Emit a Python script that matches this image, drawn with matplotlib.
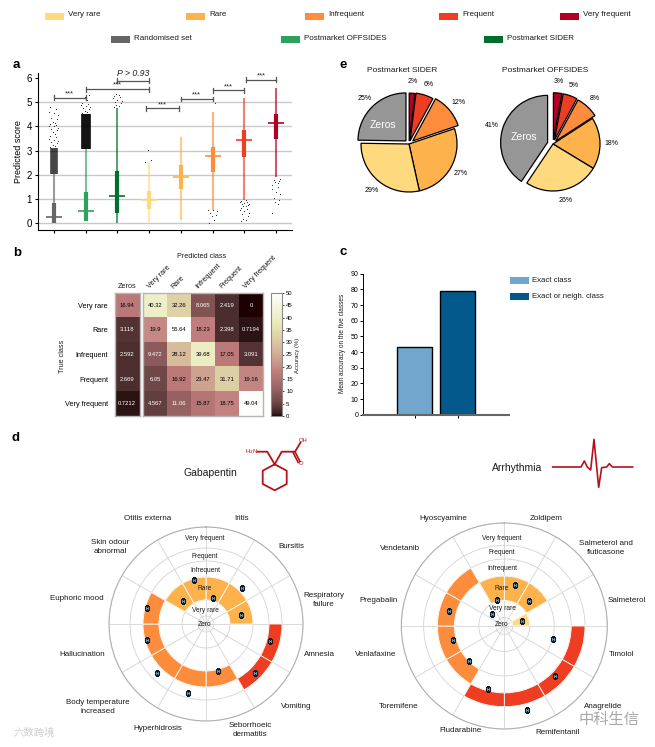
# Drug side-effect frequency figure: panels a-e recreated in one file

import numpy as np
import matplotlib
matplotlib.use("Agg")
import matplotlib.pyplot as plt
from matplotlib.patches import Rectangle

plt.rcParams['font.family'] = ['Liberation Sans', 'DejaVu Sans']

W, H = 655, 747

# legend
legend_top = ["Very rare", "Rare", "Infrequent", "Frequent", "Very frequent"]
legend_bottom = ["Randomised set", "Postmarket OFFSIDES", "Postmarket SIDER"]
class_colors = ['#ffd97d', '#feb24c', '#fd8d3c', '#ee3d20', '#b10026']
set_colors = ['#666666', '#2ca25f', '#006d2c']

# panel a: one box per group
box_colors = set_colors + class_colors
whisker_low = [0.0, 0.1, 0.0, 0.05, 0.15, 0.55, 0.97, 1.93]
whisker_high = [2.05, 3.05, 4.75, 2.5, 3.55, 4.58, 5.15, 5.58]
box_low = [0.03, 0.1, 0.43, 0.58, 1.4, 2.12, 2.72, 3.48]
box_high = [0.83, 1.3, 2.15, 1.33, 2.42, 3.15, 3.85, 4.53]
medians = [0.27, 0.5, 1.15, 0.97, 1.93, 2.77, 3.42, 4.15]
fliers = [
    [3.15, 3.2, 3.25, 3.3, 3.35, 3.4, 3.45, 3.5, 3.55, 3.6, 3.7, 3.75, 3.85, 3.9,
     3.95, 4.0, 4.02, 4.05, 4.1, 4.12, 4.2, 4.3, 4.35, 4.45, 4.55, 4.6, 4.7, 4.78],
    [4.55, 4.6, 4.65, 4.7, 4.75, 4.8, 4.85, 4.9, 4.92, 4.95, 5.1, 5.2, 5.3],
    [4.8, 4.85, 4.9, 4.95, 5.0, 5.05, 5.1, 5.15, 5.2, 5.25, 5.3, 5.35],
    [2.55, 2.6, 3.02],
    [],
    [0.02, 0.15, 0.3, 0.35, 0.42, 0.5, 0.55, 0.57, 4.95],
    [0.1, 0.15, 0.2, 0.3, 0.4, 0.45, 0.5, 0.55, 0.6, 0.65, 0.7, 0.72, 0.75, 0.8,
     0.82, 0.85, 0.88, 0.9, 0.92, 0.95],
    [0.45, 0.8, 0.9, 0.95, 1.05, 1.2, 1.3, 1.4, 1.5, 1.6, 1.65, 1.7, 1.75, 1.8, 1.85],
]
# where the outliers are too many to tell apart
dense_group = [0, 1]
dense_low = [2.05, 3.05]
dense_high = [3.1, 4.5]
flier_offsets = [-0.12, 0.05, -0.03, 0.1, -0.08, 0.13, 0.0, -0.14, 0.07]

bracket_from = [0, 1, 2, 2.9, 4, 5, 6.05]
bracket_to = [1, 3, 3, 3.95, 5, 6, 7]
bracket_y = [5.18, 5.53, 5.88, 4.74, 5.13, 5.48, 5.92]
bracket_text = ["***", "***", "P > 0.93", "***", "***", "***", "***"]

# panel b
pred_classes = ["Very rare", "Rare", "Infrequent", "Frequent", "Very frequent"]
zeros_col = [16.94, 3.118, 2.592, 2.669, 0.7212]
conf = [
    [40.32, 32.26, 8.065, 2.419, 0],
    [19.9, 55.64, 18.23, 2.398, 0.7194],
    [9.472, 28.12, 39.68, 17.05, 3.091],
    [6.05, 16.92, 23.47, 31.71, 19.16],
    [4.567, 11.06, 15.87, 18.75, 49.04],
]

# panel c
bar_names = ["Exact class", "Exact or neigh. class"]
bar_values = [43.3, 78.7]
bar_colors = ['#72a6cd', '#03598c']

# panel e, clockwise from the top
pie_colors = ['#b10026', '#ee3d20', '#fd8d3c', '#feb24c', '#ffd97d', '#969696']
sider_pct = [2, 6, 12, 27, 29, 25]
offsides_pct = [3, 5, 8, 18, 26, 41]

# panel d: sector class (0 zero ... 5 very frequent) and predicted radius
ring_edges = [0, 8, 24, 47, 63, 76, 97]
ring_labels = ["Zero", "Very rare", "Rare", "Infrequent", "Frequent", "Very frequent"]
gaba_class = [2, 2, 2, 4, 4, 3, 3, 3, 3, 3, 2, 2]
gaba_pred = [26.8, 51.4, 36, 66.4, 70, 48.2, 71, 68.6, 61, 60.6, 33, 45.6]
arr_class = [2, 2, 1, 4, 4, 4, 4, 3, 3, 3, 3, 2]
arr_pred = [40, 33, 17.6, 47, 67, 81.6, 61, 47, 50, 54, 16.2, 25.4]

gaba_effects = ["Iritis", "Bursitis", "Respiratory\nfailure", "Amnesia", "Vomiting",
                "Seborrhoeic\ndermatitis", "Hyperhidrosis", "Body temperature\nincreased",
                "Hallucination", "Euphoric mood", "Skin odour\nabnormal", "Otitis externa"]
gaba_xy = [(242, 519), (291, 547), (324, 600), (319, 654), (296, 706), (250, 730),
           (158, 729), (98, 707), (82, 654), (77, 599), (110, 547), (148, 519)]
arr_drugs = ["Zoldipem", "Salmeterol and\nfluticasone", "Salmeterol", "Timolol", "Anagrelide",
             "Remifentanil", "Fludarabine", "Toremifene", "Venlafaxine", "Pregabalin",
             "Vendetanib", "Hyoscyamine"]
arr_xy = [(546, 519), (606, 548), (627, 600), (622, 655), (603, 706), (557, 732),
          (461, 731), (399, 707), (376, 655), (379, 600), (400, 548), (443, 519)]


def px_axes(x0, y0, x1, y1, **kw):
    return fig.add_axes([x0 / W, 1 - y1 / H, (x1 - x0) / W, (y1 - y0) / H], **kw)


fig = plt.figure(figsize=(W / 100, H / 100), dpi=100)

# overlay in pixel coordinates for loose text and drawings
over = px_axes(0, 0, W, H)
over.set_xlim(0, W)
over.set_ylim(H, 0)
over.axis('off')
over.set_zorder(10)


def txt(x, y, s, size=5.8, **kw):
    kw.setdefault('ha', 'center')
    kw.setdefault('va', 'center')
    kw.setdefault('color', '#1a1a1a')
    over.text(x, y, s, fontsize=size, **kw)


# legend
for name, color, px, tx in zip(legend_top, class_colors, [45, 186, 305, 439, 560], [68, 209, 328, 462, 583]):
    over.add_patch(Rectangle((px, 12.7), 19, 7.3, color=color, lw=0))
    txt(tx, 15, name, ha='left')
for name, color, px, tx in zip(legend_bottom, set_colors, [111, 281, 484], [134, 304, 507]):
    over.add_patch(Rectangle((px, 36), 19, 7, color=color, lw=0))
    txt(tx, 39, name, ha='left')

# panel letters
for letter, x, y in zip("aebcd", [16, 343, 17, 343, 16], [65, 65, 253, 252, 438]):
    txt(x, y, letter, size=9.5, fontweight='bold', color='black')

# ---- panel a
ax = px_axes(38, 73, 292, 230)
ax.set_xlim(-0.5, 7.5)
ax.set_ylim(-0.27, 6.2)
ax.hlines(range(6), -0.5, 7.5, color='#c9c9c9', lw=1, zorder=0)
for i in range(8):
    c = box_colors[i]
    ax.vlines(i, whisker_low[i], whisker_high[i], color=c, lw=1.5, alpha=0.65, zorder=2)
    ax.vlines(i, box_low[i], box_high[i], color=c, lw=3, zorder=3)
    ax.hlines(medians[i], i - 0.25, i + 0.25, color=c, lw=1.2, zorder=4)
    ys = fliers[i]
    xs = i + np.resize(flier_offsets, len(ys))
    ax.scatter(xs, ys, s=0.5, color='#222222', lw=0, zorder=3)
for i, lo, hi, w in zip(dense_group, dense_low, dense_high, [5.5, 7]):
    ax.vlines(i, lo, hi, color='black', lw=w, alpha=0.72 + 0.2 * i, zorder=3)
for a, b, y, s in zip(bracket_from, bracket_to, bracket_y, bracket_text):
    ax.plot([a, a, np.nan, a, b, np.nan, b, b], [y - 0.1, y + 0.1, np.nan, y, y, np.nan, y - 0.1, y + 0.1],
            color='#555555', lw=0.9, clip_on=False)
    if s == "***":
        ax.text((a + b) / 2, y + 0.02, s, ha='center', va='bottom', fontsize=5.5, color='#222222')
    else:
        ax.text((a + b) / 2, y + 0.13, s, ha='center', va='bottom', fontsize=6.3, style='italic', color='#222222')
for side in ['top', 'right']:
    ax.spines[side].set_visible(False)
ax.set_xticks(range(8))
ax.set_xticklabels([])
ax.set_yticks(range(7))
ax.tick_params(labelsize=7, length=2.5, width=0.8, pad=2)
ax.set_ylabel("Predicted score", fontsize=6.5, labelpad=2)

# ---- panel b
im_args = dict(cmap='pink', vmin=0, vmax=50, aspect='auto')
ax_z = px_axes(115, 293, 139.5, 416)
ax_z.imshow(np.array(zeros_col).reshape(-1, 1), **im_args)
ax_m = px_axes(143, 293, 263, 416)
im = ax_m.imshow(np.array(conf), **im_args)


def cell_label(ax, col, row, v):
    ax.text(col, row, '%.4g' % v, ha='center', va='center', fontsize=4.2,
            color='white' if v < 12 else 'black')


for r, v in enumerate(zeros_col):
    cell_label(ax_z, 0, r, v)
for r, row in enumerate(conf):
    for c, v in enumerate(row):
        cell_label(ax_m, c, r, v)
for a in (ax_z, ax_m):
    a.set_xticks([])
    a.set_yticks([])
    for s in a.spines.values():
        s.set_color('#b5b5b5')
        s.set_linewidth(1)
ax_z.set_yticks(range(5))
ax_z.set_yticklabels(pred_classes, fontsize=5.2)
ax_z.tick_params(length=0, pad=5)
cax = px_axes(271, 293, 282, 416)
cb = fig.colorbar(im, cax=cax, ticks=range(0, 51, 5))
cb.ax.tick_params(labelsize=4.3, length=1.5, width=0.5, pad=1.5)
cb.outline.set_edgecolor('#8a8a8a')
for name, x in zip(pred_classes, [151, 175, 199, 223, 247]):
    txt(x, 290, name, size=5.2, rotation=45, ha='left', va='bottom', rotation_mode='anchor')
txt(127, 286, "Zeros", size=5.2)
txt(202, 256, "Predicted class", size=5.2)
txt(63, 356, "True class", size=5.2, rotation=90)
txt(298, 355, "Accuracy (%)", size=4.2, rotation=90)

# ---- panel e
for pct, cx, cy, r, explode, title, tx, ty, zx, zy in [
    (sider_pct, 409, 144, 48, [0.06, 0.07, 0.1, 0, 0, 0.09], "Postmarket SIDER", 402, 71, 383, 125),
    (offsides_pct, 553, 144, 47, [0.09, 0.09, 0.08, 0, 0, 0.12], "Postmarket OFFSIDES", 545, 70, 524, 137),
]:
    s = r * 2.5 / 2
    ax_p = px_axes(cx - s, cy - s, cx + s, cy + s)
    wedges, labels = ax_p.pie(pct, labels=["%d%%" % p for p in pct], colors=pie_colors, explode=explode,
                              startangle=90, counterclock=False, labeldistance=1.24,
                              wedgeprops=dict(edgecolor='black', linewidth=0.9),
                              textprops=dict(fontsize=5))
    for t in labels:
        t.set_ha('center')
        t.set_va('center')
    ax_p.set_xlim(-1.25, 1.25)
    ax_p.set_ylim(-1.25, 1.25)
    txt(tx, ty, title, size=6)
    txt(zx, zy, "Zeros", size=7.5, color='white')

# ---- panel c
ax_c = px_axes(363, 273.7, 509, 414.7)
ax_c.set_xlim(-1.2, 2.19)
ax_c.set_ylim(0, 90)
ax_c.bar([0, 1], bar_values, width=0.81, color=bar_colors, edgecolor='black', linewidth=1)
ax_c.set_xticks([0, 1])
ax_c.set_xticklabels([])
ax_c.set_yticks(range(0, 91, 10))
ax_c.tick_params(labelsize=5, length=2, width=0.7, pad=1.5)
for side in ['top', 'right']:
    ax_c.spines[side].set_visible(False)
ax_c.spines['bottom'].set_color('#666666')
ax_c.spines['bottom'].set_linewidth(1.5)
ax_c.spines['left'].set_linewidth(0.7)
txt(343, 343, "Mean accuracy on the five classes", size=4.7, rotation=90)
for name, color, y in zip(bar_names, bar_colors, [277, 293]):
    over.add_patch(Rectangle((510, y), 19, 7, color=color, lw=0))
    txt(532, y + 3.5, name, ha='left', size=5.6)

# ---- panel d
sector = np.deg2rad(np.arange(15, 360, 30))


def ring_chart(cx, cy, rad, classes, pred):
    a = px_axes(cx - rad, cy - rad, cx + rad, cy + rad, polar=True)
    a.set_theta_zero_location('N')
    a.set_theta_direction(-1)
    a.set_rlim(0, 97)
    inner = [ring_edges[c] for c in classes]
    outer = [ring_edges[c + 1] for c in classes]
    colors = [class_colors[c - 1] for c in classes]
    a.bar(sector, np.array(outer) - np.array(inner), width=np.deg2rad(30), bottom=inner,
          color=colors, edgecolor='white', linewidth=0.6, zorder=2)
    a.scatter(sector, pred, marker='s', s=9, facecolor='#6f9bb8', edgecolor='#101c2a', linewidth=0.8, zorder=4)
    a.set_xticks(np.deg2rad(np.arange(0, 360, 30)))
    a.set_xticklabels([])
    a.set_yticks(ring_edges[1:])
    a.set_yticklabels([])
    a.grid(color='#d4d4d4', lw=0.6)
    a.spines['polar'].set_color('#b0b0b0')
    a.spines['polar'].set_linewidth(0.8)
    return a


ring_chart(206, 624, 97, gaba_class, gaba_pred)
ring_chart(504.3, 626, 103, arr_class, arr_pred)

for name, y in zip(ring_labels, [624, 611, 589, 571, 556, 538]):
    txt(205, y, name, size=4.8)
for name, y in zip(ring_labels, [624, 608, 588, 569, 553, 539]):
    txt(502, y, name, size=4.8)
for name, (x, y) in zip(gaba_effects, gaba_xy):
    txt(x, y, name, size=5.8, linespacing=1.25)
for name, (x, y) in zip(arr_drugs, arr_xy):
    txt(x, y, name, size=5.8, linespacing=1.25)

# molecule and ECG trace, pixel drawings
red = '#b3121d'
hex_x = [274.7, 286.7, 286.7, 274.7, 262.7, 262.7, 274.7]
hex_y = [464.3, 470.7, 484, 490.3, 484, 470.7, 464.3]
over.plot(hex_x, hex_y, color=red, lw=1.3)
over.plot([274.7, 267.3, 257.5], [464.3, 451.7, 451.7], color=red, lw=1.3)
over.plot([274.7, 281.7, 295, 300.5], [464.3, 451.7, 451.7, 442.5], color=red, lw=1.3)
over.plot([295, 300], [451.7, 461.5], color=red, lw=1.2)
over.plot([293.2, 298.2], [452.7, 462.5], color=red, lw=1.2)
txt(251, 452, "H$_2$N", size=4.2, color=red)
txt(303, 440.7, "OH", size=4.2, color=red)
txt(300.7, 463.5, "O", size=4.2, color=red)
txt(210, 472.7, "Gabapentin", size=7.5)
txt(516.7, 467.7, "Arrhythmia", size=7.5)
ecg_x = np.array([218, 303, 313, 322, 332, 342, 356, 365, 380, 388, 397, 458]) / 3 + 480
ecg_y = np.array([111, 111, 93, 111, 120, 28, 172, 113, 111, 101, 111, 111]) / 3 + 430
over.plot(ecg_x, ecg_y, color=red, lw=1.2)

# watermarks from the source image
txt(34, 733, "六数跨境", size=7.5, color='#cfcfcf', family=['Noto Sans CJK SC', 'DejaVu Sans'])
txt(609, 719, "中科生信", size=11, color='#a8a8a8', family=['Noto Sans CJK SC', 'DejaVu Sans'])

fig.savefig('out.png', dpi=100)
